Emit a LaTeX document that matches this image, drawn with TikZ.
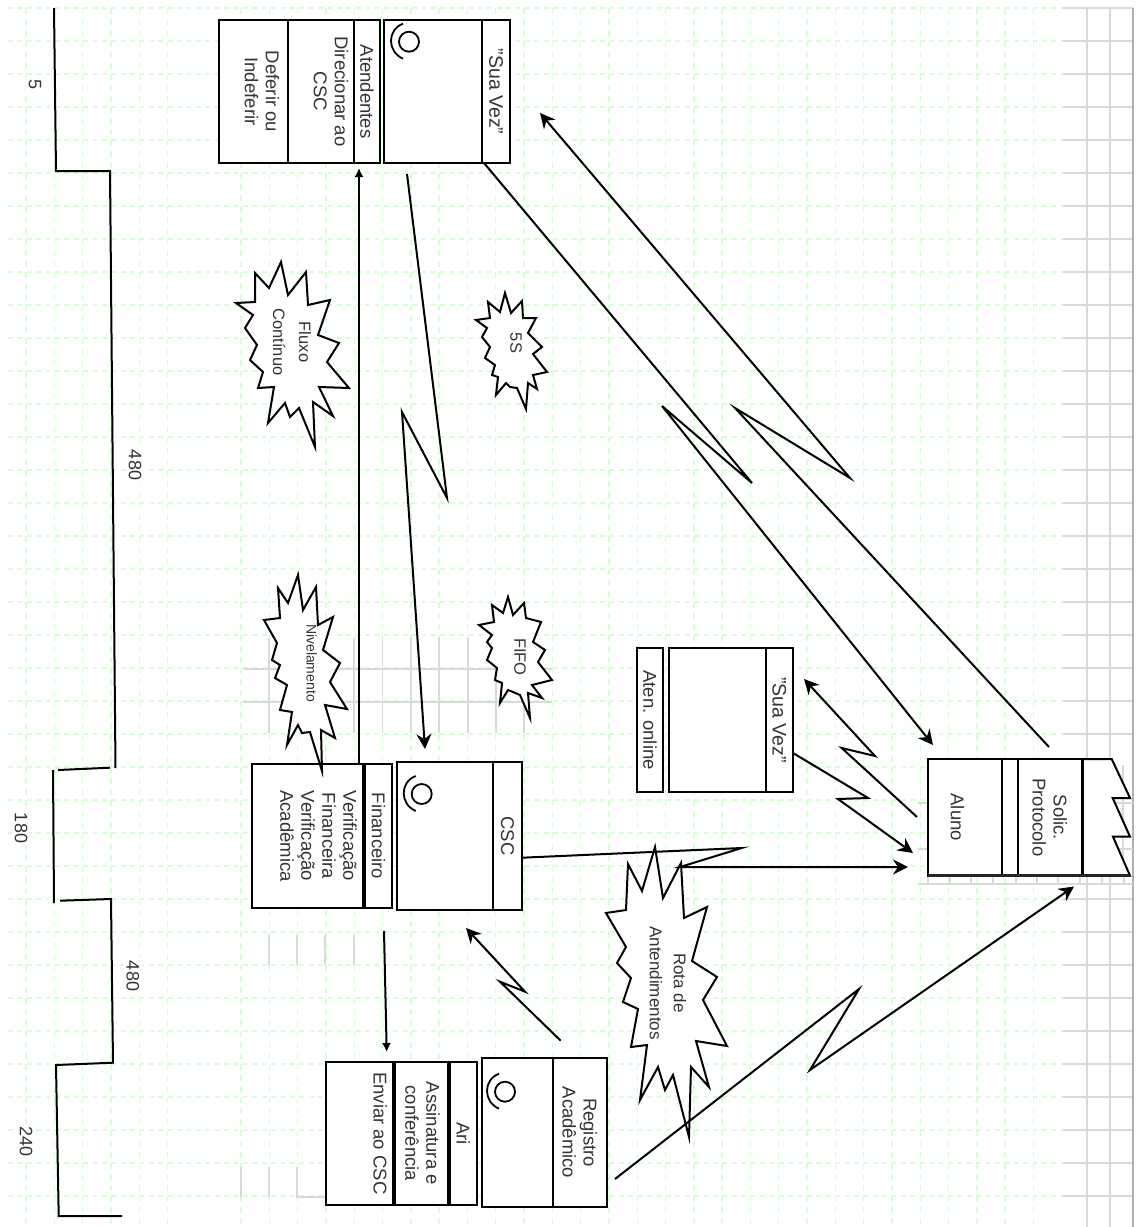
\documentclass[tikz,border=0pt]{standalone}
\usepackage{fontspec}
\setmainfont{Liberation Sans}
\usetikzlibrary{arrows.meta, positioning}
\definecolor{gridgreen}{HTML}{D6FFD6}
\definecolor{gridgray}{HTML}{D9D9D9}
\definecolor{edgegray}{HTML}{B0B0B0}
\definecolor{inkgray}{HTML}{333333}
\tikzset{
  % grelhas de fundo
  greenrow/.style={gridgreen, line width=1.4pt, dash pattern=on 4.7pt off 4.7pt},
  greencol/.style={gridgreen, line width=1.4pt, dash pattern=on 5.5pt off 5.5pt},
  grayline/.style={gridgray, line width=1.6pt},
  % caixas rodadas
  cell/.style={draw=black, line width=2pt, fill=white, rotate=-90, align=center,
    inner sep=0pt, text=inkgray, font=\fontsize{18.5}{21}\selectfont},
  vezcell/.style={cell, font=\fontsize{19.5}{21}\selectfont},
  divbar/.style={line width=3.5pt, black},
  % explosoes
  burst/.style={draw=black, line width=2pt, fill=white, line join=miter},
  burstlbl/.style={rotate=-90, align=center, inner sep=0pt, text=inkgray,
    font=\fontsize{16.5}{24}\selectfont},
  % setas
  msg/.style={line width=2pt, -{Stealth[length=15pt, width=15pt, inset=5pt]}},
  msgsmall/.style={line width=2pt, -{Latex[length=9pt, width=9pt]}},
  % numeros da escada
  numlbl/.style={rotate=-90, fill=white, inner sep=3pt, text=inkgray,
    font=\fontsize{18}{21}\selectfont},
}
\begin{document}
\begin{tikzpicture}[x=1pt, y=-1pt]
  \useasboundingbox (0,0) rectangle (1137,1227);
  % grelha verde e cinzenta
  \foreach \k in {0,...,36} {
    \draw[greenrow] (8,8+33*\k) -- (1063,8+33*\k);
  }
  \foreach \k in {0,...,5} {
    \draw[greencol] (26+28.3*\k,8) -- (26+28.3*\k,1227);
  }
  \foreach \k in {0,...,28} {
    \draw[greencol] (241+28.3*\k,8) -- (241+28.3*\k,1227);
  }
  \foreach \k in {0,...,22,27,28,...,36} {
    \draw[grayline] (1063,8+33*\k) -- (1133,8+33*\k);
  }
  \draw[grayline] (1087,8) -- (1087,1227);
  \draw[grayline] (1110,8) -- (1110,1227);
  \draw[edgegray, line width=2.5pt] (1133,8) -- (1133,1227);
  \draw[grayline] (243,669) -- (552,669);
  \draw[grayline] (243,702) -- (552,702);
  \foreach \x in {269,354,382.5,411,439,468,496,524} {
    \draw[grayline] (\x,638) -- (\x,733);
  }
  \foreach \x in {269,297,325,354} {
    \draw[grayline] (\x,935) -- (\x,965);
  }
  \foreach \x in {241,269} {
    \draw[grayline] (\x,1167) -- (\x,1197);
  }
  \draw[grayline] (297,1167) -- (297,1197) -- (325,1197);
  \draw[grayline] (918,884) -- (1133,884);
  \foreach \x in {928,950,971,993,1016,1037,1058,1080,1102,1124} {
    \draw[grayline] (\x,876) -- (\x,884);
  }
  \draw[grayline] (918,803) -- (928,803);
  \draw[grayline] (918,849) -- (928,849);
  \draw[grayline] (1123,765) -- (1123,876);
  \draw[grayline] (1115,803) -- (1133,803);
  \draw[grayline] (1115,849) -- (1133,849);
  % escada de tempos
  \draw[line width=2pt] (54,8) -- (56,171) -- (110,171) -- (115.5,768);
  \draw[line width=2pt] (110,767.7) -- (58,770);
  \draw[line width=2pt] (53,770) -- (54,903);
  \draw[line width=2pt] (60,900.7) -- (111,899) -- (113,1062.7) -- (56,1065) -- (58.7,1216) -- (122,1216);
  \node[numlbl] (t5) at (35,85) {5};
  \node[numlbl] (t480a) at (135,465) {480};
  \node[numlbl] (t180) at (21,828) {180};
  \node[numlbl] (t480b) at (132.7,976) {480};
  \node[numlbl] (t240) at (26,1141.7) {240};
  % atendentes
  \node[cell, minimum width=143pt, minimum height=26pt] (atehead) at (367,91.5) {Atendentes};
  \node[cell, minimum width=143pt, minimum height=66pt, text depth=20pt] (atedir) at (321,91.5) {Direcionar ao\\CSC};
  \node[cell, minimum width=143pt, minimum height=69pt, text depth=17pt] (atedef) at (253.5,91.5) {Deferir ou\\Indeferir};
  \node[vezcell, minimum width=143pt, minimum height=28.3pt] (vezhead) at (496,91.5) {"Sua Vez"};
  \node[cell, minimum width=143pt, minimum height=97.7pt] (vezbody) at (432.8,91.5) {};
  % csc e financeiro
  \node[cell, minimum width=148.3pt, minimum height=29pt] (cschead) at (507.5,836) {CSC};
  \node[cell, minimum width=148.3pt, minimum height=96.3pt] (cscbody) at (444.8,836) {};
  \node[cell, minimum width=143.7pt, minimum height=27pt] (finhead) at (378.5,836) {Financeiro};
  \node[cell, minimum width=143.7pt, minimum height=112.7pt, text depth=20pt] (finbody) at (308.6,836) {Verificação\\Financeira\\Verificação\\Acadêmica};
  \draw[divbar] (finhead.south west) -- (finhead.south east);
  % ari e registro
  \node[cell, minimum width=143.3pt, minimum height=26.7pt] (arihead) at (463.3,1133.3) {Ari};
  \node[cell, minimum width=143.3pt, minimum height=55pt] (arimid) at (422.5,1133.3) {Assinatura e\\conferência};
  \node[cell, minimum width=143.3pt, minimum height=69.3pt, text depth=40pt] (aribot) at (360.3,1133.3) {Enviar ao CSC};
  \draw[divbar] (arihead.south west) -- (arihead.south east);
  \draw[divbar] (arimid.south west) -- (arimid.south east);
  \node[cell, minimum width=149pt, minimum height=54pt] (reghead) at (579.7,1132.5) {Registro\\Acadêmico};
  \node[cell, minimum width=149pt, minimum height=71pt] (regbody) at (517.2,1132.5) {};
  % atendimento online
  \node[cell, minimum width=144pt, minimum height=26pt] (onlname) at (650,720) {Aten. online};
  \node[cell, minimum width=144pt, minimum height=97pt] (onlbody) at (717.2,720) {};
  \node[vezcell, minimum width=144pt, minimum height=27.3pt] (onlhead) at (779.3,720) {"Sua Vez"};
  % aluno
  \draw[draw=black, line width=2pt, fill=white] (1081.7,759) -- (1111.7,759) -- (1130,798) -- (1112.7,798) -- (1130,836.7) -- (1113,836.7) -- (1130,875.7) -- (1081.7,875.7) -- cycle;
  \node[cell, minimum width=116.7pt, minimum height=73.7pt, text height=28pt] (aluno) at (964.8,817.3) {Aluno};
  \node[cell, minimum width=116.7pt, minimum height=16.3pt] (alublank) at (1009.8,817.3) {};
  \node[cell, minimum width=116.7pt, minimum height=63.7pt] (solic) at (1049.8,817.3) {Solic.\\Protocolo};
  \draw[divbar] (solic.north west) -- (solic.north east);
  \draw[line width=3pt, black!85] (928,875.7) -- (1130,875.7);
  % relogios
  \foreach \x/\y in {409/41.7, 421.7/794, 505/1091.7} {
    \draw[line width=1.8pt] (\x,\y) circle [radius=10];
    \draw[line width=1.8pt] (\x-6,\y-18) .. controls (\x-22,\y-12) and (\x-22,\y+10) .. (\x-6,\y+17);
  }
  % explosoes
  \draw[burst] (281,262) -- (288,295) -- (306,272) -- (308,305) -- (330,300) -- (318,335) -- (339,343) -- (327,362) -- (349,388) -- (319,387) -- (333,416) -- (313,402) -- (315,447) -- (299,408) -- (290,417) -- (285,403) -- (268,423) -- (274,387) -- (258,388) -- (263,372) -- (250,360) -- (257,345) -- (245,328) -- (253,315) -- (236,303) -- (255,302) -- (255,273) -- (269,288) -- cycle;
  \node[burstlbl, font=\fontsize{16.5}{26}\selectfont] (fluxo) at (292,342) {Fluxo\\Contínuo};
  \draw[burst] (505,293) -- (511,313) -- (522,301) -- (523,318) -- (536,318) -- (528,333) -- (542,347) -- (533,354) -- (547,372) -- (533,375) -- (537,389) -- (528,383) -- (526,409) -- (517,388) -- (510,387) -- (506,383) -- (496,395) -- (498,377) -- (492,375) -- (495,365) -- (485,358) -- (490,347) -- (482,337) -- (487,328) -- (476,320) -- (490,318) -- (488,302) -- (500,312) -- cycle;
  \node[burstlbl] (cincos) at (516,343) {5S};
  \draw[burst] (298,575) -- (303,610) -- (316,587) -- (318,625) -- (333,617) -- (323,650) -- (340,663) -- (330,682) -- (347,709) -- (325,705) -- (335,738) -- (321,730) -- (322,771) -- (310,732) -- (302,733) -- (298,725) -- (287,745) -- (292,712) -- (280,710) -- (287,685) -- (275,678) -- (280,665) -- (272,660) -- (277,643) -- (264,620) -- (280,618) -- (278,588) -- (288,603) -- cycle;
  \node[burstlbl, font=\fontsize{14}{16}\selectfont] (nivel) at (311.7,663) {Nivelamento};
  \draw[burst] (508,597) -- (513,615) -- (524,603) -- (526,618) -- (541,622) -- (533,642) -- (545,650) -- (538,662) -- (552,680) -- (532,685) -- (542,698) -- (528,693) -- (530,718) -- (520,695) -- (513,692) -- (508,690) -- (500,703) -- (502,683) -- (495,680) -- (497,668) -- (487,660) -- (492,648) -- (487,642) -- (492,635) -- (479,625) -- (494,622) -- (492,605) -- (503,613) -- cycle;
  \node[burstlbl] (fifo) at (520,657) {FIFO};
  \draw[burst] (655,847) -- (663,898) -- (681,863) -- (684,918) -- (707,907) -- (692,961) -- (717,977) -- (703,1000) -- (727,1046) -- (696,1041) -- (709,1087) -- (691,1067) -- (689,1137) -- (673,1075) -- (665,1090) -- (658,1067) -- (640,1100) -- (647,1045) -- (631,1047) -- (638,1009) -- (623,1002) -- (631,978) -- (617,963) -- (626,947) -- (606,913) -- (626,910) -- (628,864) -- (642,891) -- cycle;
  \node[burstlbl, font=\fontsize{17}{24}\selectfont] (rota) at (668,983) {Rota de\\Antendimentos};
  % pontas das setas
  \coordinate (finout) at (359,763);
  \coordinate (atein) at (359,168);
  \coordinate (vezout) at (407,174);
  \coordinate (cscin) at (425,749);
  \coordinate (vezcorner) at (484,163);
  \coordinate (aluin) at (933,745);
  \coordinate (solout) at (1049,747);
  \coordinate (vezin) at (540,113);
  \coordinate (aluout) at (917,817);
  \coordinate (onlin) at (804,679);
  \coordinate (onlout) at (793,753);
  \coordinate (aluinb) at (913,853);
  \coordinate (cscout) at (522,857.7);
  \coordinate (aluinc) at (908,867);
  \coordinate (regout) at (560.7,1040.7);
  \coordinate (cscinb) at (466,928);
  \coordinate (finoutb) at (384,931);
  \coordinate (ariin) at (386.7,1052);
  \coordinate (regoutb) at (615,1179);
  \coordinate (solin) at (1074,886.5);
  % ligacoes
  \draw[msgsmall] (finout) -- (atein);
  \draw[msg] (vezout) -- (447,498) -- (402,412) -- (cscin);
  \draw[msg] (vezcorner) -- (752,483) -- (662,406) -- (aluin);
  \draw[msg] (solout) -- (735,408) -- (850,478) -- (vezin);
  \draw[msg] (aluout) -- (841.7,748) -- (875,756) -- (onlin);
  \draw[msg] (onlout) -- (868,798) -- (838,799) -- (aluinb);
  \draw[msg] (cscout) -- (741.7,848) -- (680,867) -- (aluinc);
  \draw[msg] (regout) -- (500,981.7) -- (525,991.7) -- (cscinb);
  \draw[msgsmall] (finoutb) -- (ariin);
  \draw[msg] (regoutb) -- (859,989) -- (810,1070) -- (solin);
\end{tikzpicture}
\end{document}
